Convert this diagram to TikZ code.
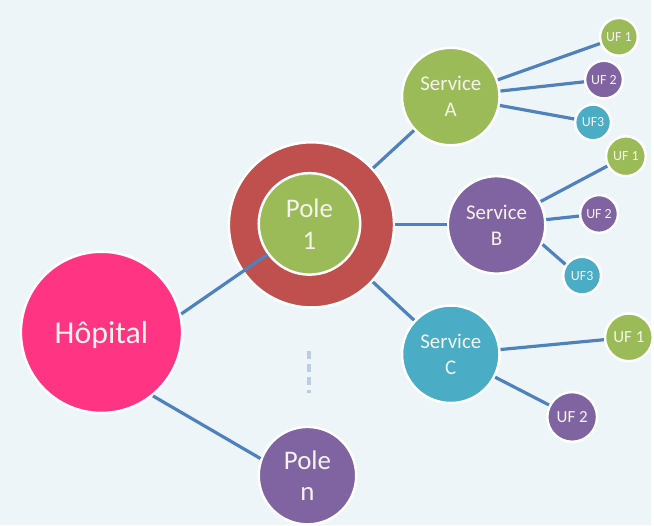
\documentclass[tikz,border=0pt]{standalone}
\usepackage{fontspec}
\setmainfont{Carlito}
\definecolor{bgc}{HTML}{EDF5F8}
\definecolor{pinkc}{HTML}{FF3583}
\definecolor{redc}{HTML}{C0504D}
\definecolor{greenc}{HTML}{9BBB59}
\definecolor{purplec}{HTML}{8064A2}
\definecolor{tealc}{HTML}{4BACC6}
\definecolor{linec}{HTML}{4F81BD}
\definecolor{dashc}{HTML}{B9CDE5}
\definecolor{textc}{HTML}{F4F4EC}
\tikzset{
  bubble/.style={circle, draw=white, line width=2.5pt, inner sep=0pt, text=textc, align=center},
  fs/.style 2 args={font=\fontsize{#1}{#2}\selectfont},
  link/.style={draw=linec, line width=3.2pt},
}
\begin{document}
\begin{tikzpicture}[x=1pt,y=-1pt]
\path[fill=bgc] (0,0) rectangle (654,528);
% nodes
\node[bubble, fill=pinkc, minimum size=162pt, fs={32}{38}, text depth=0pt] (hop) at (102,334) {Hôpital};
\node[bubble, fill=redc, minimum size=166pt] (ring) at (313,226) {};
\node[bubble, fill=greenc, minimum size=102pt, fs={27}{32}] (p1) at (311,225) {Pole\\1};
\node[bubble, fill=purplec, minimum size=98pt, fs={27}{32}] (pn) at (309,478) {Pole\\n};
\node[bubble, fill=greenc, minimum size=98pt, fs={21}{26}] (sa) at (453,97) {Service\\A};
\node[bubble, fill=purplec, minimum size=98pt, fs={21}{26}] (sb) at (499,226) {Service\\B};
\node[bubble, fill=tealc, minimum size=98pt, fs={21}{26}] (sc) at (453,356) {Service\\C};
\node[bubble, fill=greenc, minimum size=38pt, fs={14}{17}] (a1) at (622,37) {UF 1};
\node[bubble, fill=purplec, minimum size=38pt, fs={14}{17}] (a2) at (607,80) {UF 2};
\node[bubble, fill=tealc, minimum size=36pt, fs={14}{17}] (a3) at (596,123) {UF3};
\node[bubble, fill=greenc, minimum size=40pt, fs={14}{17}] (b1) at (629,157) {UF 1};
\node[bubble, fill=purplec, minimum size=38pt, fs={14}{17}] (b2) at (602,215) {UF 2};
\node[bubble, fill=tealc, minimum size=38pt, fs={14}{17}] (b3) at (585,277) {UF3};
\node[bubble, fill=greenc, minimum size=48pt, fs={17}{20}] (c1) at (632,339) {UF 1};
\node[bubble, fill=purplec, minimum size=50pt, fs={17}{20}] (c2) at (575,419) {UF 2};
% connectors
\draw[link] (hop.13) -- (p1.216);
\draw[link] (hop.309) -- (pn.160);
\draw[link] (ring) -- (sa);
\draw[link] (ring) -- (sb);
\draw[link] (ring) -- (sc);
\draw[link] (sa) -- (a1);
\draw[link] (sa) -- (a2);
\draw[link] (sa) -- (a3);
\draw[link] (sb) -- (b1);
\draw[link] (sb) -- (b2);
\draw[link] (sb.337) -- (b3.146);
\draw[link] (sc) -- (c1);
\draw[link] (sc) -- (c2);
% dashed vertical ellipsis
\coordinate (d1) at (311,353);
\coordinate (d2) at (311,395);
\draw[dashc, line width=4pt, dash pattern=on 8pt off 5pt] (d1) -- (d2);
\end{tikzpicture}
\end{document}
